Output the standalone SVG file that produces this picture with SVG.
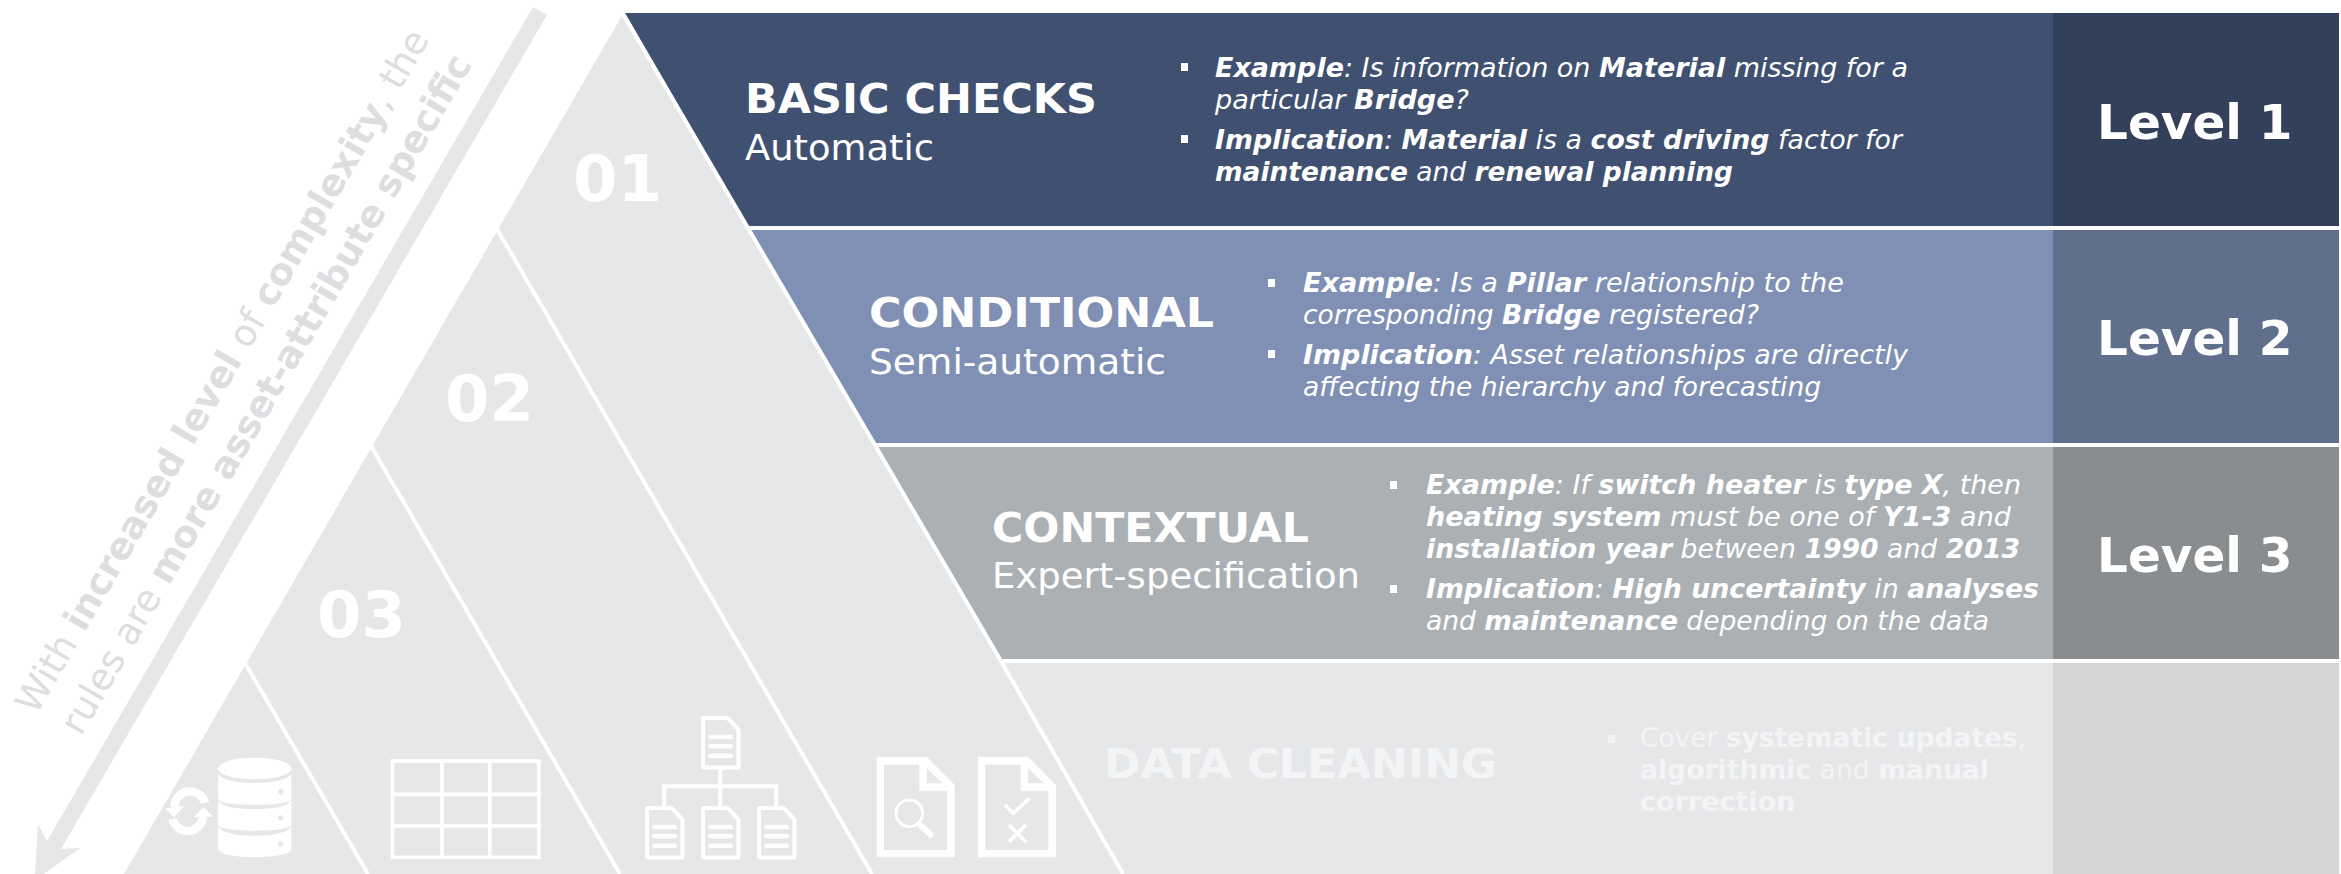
<svg xmlns="http://www.w3.org/2000/svg" width="2341" height="874" viewBox="0 0 2341 874">
<style>
text{font-family:"DejaVu Sans","Verdana",sans-serif;fill:#fff}
.t{font-size:41px;font-weight:700}
.s{font-size:36px}
.b{font-size:27px;font-style:italic}
.l{font-size:48.500px;font-weight:700}
.n{font-size:64px;font-weight:700}
.r{font-size:37px;fill:#DDDEE0}
.p{font-size:27px;fill:#F3F4F5}
.w{fill:#fff}
.ic{fill:none;stroke:#fff}
.div{stroke:#fff;stroke-width:4;fill:none}
</style>
<rect width="2341" height="874" fill="#fff"/>
<g id="triangle"><polygon points="623,14 1123,874 124,874" fill="#E6E7E9"/></g>
<g id="band1">
<polygon points="625,13 2053,13 2053,226 748,226" fill="#405070"/>
<rect x="2053" y="13" width="286" height="213" fill="#334059"/>
<text class="t" x="745" y="113" textLength="352" lengthAdjust="spacingAndGlyphs">BASIC CHECKS</text>
<text class="s" x="745" y="160" textLength="189" lengthAdjust="spacingAndGlyphs">Automatic</text>
<rect class="w" x="1181" y="63" width="7" height="8"/>
<text class="b" x="1215" y="77" textLength="693" lengthAdjust="spacingAndGlyphs"><tspan font-weight="700">Example</tspan>: Is information on <tspan font-weight="700">Material</tspan> missing for a</text>
<text class="b" x="1215" y="109" textLength="254" lengthAdjust="spacingAndGlyphs">particular <tspan font-weight="700">Bridge</tspan>?</text>
<rect class="w" x="1181" y="135" width="7" height="8"/>
<text class="b" x="1215" y="149" textLength="687" lengthAdjust="spacingAndGlyphs"><tspan font-weight="700">Implication</tspan>: <tspan font-weight="700">Material</tspan> is a <tspan font-weight="700">cost driving</tspan> factor for</text>
<text class="b" x="1215" y="181" textLength="518" lengthAdjust="spacingAndGlyphs"><tspan font-weight="700">maintenance</tspan> and <tspan font-weight="700">renewal planning</tspan></text>
<text class="l" x="2097" y="139">Level 1</text>
</g>
<g id="band2">
<polygon points="750,230 2053,230 2053,443 874,443" fill="#7F90B4"/>
<rect x="2053" y="230" width="286" height="213" fill="#5F6F8C"/>
<text class="t" x="869" y="327" textLength="345" lengthAdjust="spacingAndGlyphs">CONDITIONAL</text>
<text class="s" x="869" y="374" textLength="297" lengthAdjust="spacingAndGlyphs">Semi-automatic</text>
<rect class="w" x="1268" y="279" width="7" height="8"/>
<text class="b" x="1303" y="292" textLength="541" lengthAdjust="spacingAndGlyphs"><tspan font-weight="700">Example</tspan>: Is a <tspan font-weight="700">Pillar</tspan> relationship to the</text>
<text class="b" x="1303" y="324" textLength="456" lengthAdjust="spacingAndGlyphs">corresponding <tspan font-weight="700">Bridge</tspan> registered?</text>
<rect class="w" x="1268" y="350" width="7" height="8"/>
<text class="b" x="1303" y="364" textLength="605" lengthAdjust="spacingAndGlyphs"><tspan font-weight="700">Implication</tspan>: Asset relationships are directly</text>
<text class="b" x="1303" y="396" textLength="518" lengthAdjust="spacingAndGlyphs">affecting the hierarchy and forecasting</text>
<text class="l" x="2097" y="355">Level 2</text>
</g>
<g id="band3">
<polygon points="877,447 2053,447 2053,659 1000,659" fill="#ABB0B4"/>
<rect x="2053" y="447" width="286" height="212" fill="#8A8D90"/>
<text class="t" x="992" y="542" textLength="317" lengthAdjust="spacingAndGlyphs">CONTEXTUAL</text>
<text class="s" x="992" y="588" textLength="368" lengthAdjust="spacingAndGlyphs">Expert-specification</text>
<rect class="w" x="1390" y="481" width="7" height="8"/>
<text class="b" x="1426" y="494" textLength="595" lengthAdjust="spacingAndGlyphs"><tspan font-weight="700">Example</tspan>: If <tspan font-weight="700">switch heater</tspan> is <tspan font-weight="700">type X</tspan>, then</text>
<text class="b" x="1426" y="526" textLength="585" lengthAdjust="spacingAndGlyphs"><tspan font-weight="700">heating system</tspan> must be one of <tspan font-weight="700">Y1-3</tspan> and</text>
<text class="b" x="1426" y="558" textLength="594" lengthAdjust="spacingAndGlyphs"><tspan font-weight="700">installation year</tspan> between <tspan font-weight="700">1990</tspan> and <tspan font-weight="700">2013</tspan></text>
<rect class="w" x="1390" y="585" width="7" height="8"/>
<text class="b" x="1426" y="598" textLength="613" lengthAdjust="spacingAndGlyphs"><tspan font-weight="700">Implication</tspan>: <tspan font-weight="700">High uncertainty</tspan> in <tspan font-weight="700">analyses</tspan></text>
<text class="b" x="1426" y="630" textLength="563" lengthAdjust="spacingAndGlyphs">and <tspan font-weight="700">maintenance</tspan> depending on the data</text>
<text class="l" x="2097" y="572">Level 3</text>
</g>
<g id="band4">
<polygon points="1003,663 2053,663 2053,874 1123,874" fill="#E6E7E9"/>
<rect x="2053" y="663" width="286" height="211" fill="#D5D6D6"/>
<text class="t" x="1104" y="778" textLength="393" lengthAdjust="spacingAndGlyphs" style="fill:#F3F4F5">DATA CLEANING</text>
<rect x="1608" y="735" width="7" height="8" fill="#F3F4F5"/>
<text class="p" x="1640" y="747" textLength="386" lengthAdjust="spacingAndGlyphs">Cover <tspan font-weight="700">systematic updates</tspan>,</text>
<text class="p" x="1640" y="779" textLength="349" lengthAdjust="spacingAndGlyphs"><tspan font-weight="700">algorithmic</tspan> and <tspan font-weight="700">manual</tspan></text>
<text class="p" x="1640" y="811" font-weight="700">correction</text>
</g>
<g id="connectors">
<polyline class="div" points="623,14 748,228 875,445 1001,661 1123,874"/>
<line class="div" x1="497" y1="229" x2="872" y2="874"/>
<line class="div" x1="371" y1="446" x2="620" y2="874"/>
<line class="div" x1="245" y1="663" x2="368" y2="874"/>
<polygon points="533,7 547,15 61,849 80,848 44,874 35,874 38,824 47,841" fill="#E6E7E9"/>
</g>
<g id="numbers">
<text class="n" x="573" y="201">01</text>
<text class="n" x="445" y="421">02</text>
<text class="n" x="317" y="637">03</text>
</g>
<g id="axis-label">
<text class="r" transform="translate(36 716) rotate(-59.8)">With <tspan font-weight="700">increased level</tspan> of <tspan font-weight="700">complexity</tspan>, the</text>
<text class="r" transform="translate(81 737) rotate(-59.8)">rules are <tspan font-weight="700">more asset-attribute specific</tspan></text>
</g>
<g id="icon-database">
<ellipse cx="254.700" cy="768.500" rx="36.700" ry="10.800" fill="#fff"/>
<path class="w" d="M218,774c4,6 18,9 36.700,9s32,-3 36.700,-9v25c0,3 -14,6 -36.700,6s-36.700,-3 -36.700,-6z"/>
<path class="w" d="M218,800.700c4,6 18,8.300 36.700,8.300s32,-2.300 36.700,-8.300v24c0,3 -14,6 -36.700,6s-36.700,-3 -36.700,-6z"/>
<path class="w" d="M218,826.700c4,6 18,9 36.700,9s32,-3 36.700,-9v22c0,5 -14,8.300 -36.700,8.300s-36.700,-3.300 -36.700,-8.300z"/>
<circle cx="280.700" cy="791.700" r="2.700" fill="#E6E7E9"/><circle cx="280.700" cy="818" r="2.700" fill="#E6E7E9"/><circle cx="280.700" cy="844.300" r="2.700" fill="#E6E7E9"/>
<path class="ic" stroke-width="8.500" d="M174.500,807A15.500,15.500 0 0 1 205,803M172.500,819A15.500,15.500 0 0 0 203,817"/>
<polygon class="w" points="165,808.300 184.300,806 174,817.300"/>
<polygon class="w" points="213.300,816.700 194,817.300 203.300,806.700"/>
</g>
<g id="icon-table">
<rect class="ic" stroke-width="3.700" x="392.500" y="761" width="146.300" height="96.400"/>
<path class="ic" stroke-width="3.700" d="M442,761v96.400M489.700,761v96.400M392.500,794.300h146.300M392.500,826h146.300"/>
</g>
<g id="icon-hierarchy">
<defs><g id="doc">
<path class="ic" stroke-width="4" stroke-linejoin="round" d="M2,2h24.500l11,11.500v38h-35.500z"/>
<path class="ic" stroke-width="4.400" stroke-linecap="round" d="M9.500,21H30M9.500,30.300H30M9.500,39.700H30"/>
</g></defs>
<use href="#doc" x="701" y="716"/>
<use href="#doc" x="645" y="806"/><use href="#doc" x="701" y="806"/><use href="#doc" x="757" y="806"/>
<path class="ic" stroke-width="4" d="M720.300,769v37M664.300,806v-19.700h112v19.700"/>
</g>
<g id="icon-docs">
<path class="w" fill-rule="evenodd" d="M876.700,756.700H926.700L954.700,785V857.300H876.700ZM884,764.700V850H947V790.700H919.300V764.700ZM926.700,768.300V783.300H942.700Z"/>
<circle class="ic" stroke-width="3" cx="909.300" cy="813.300" r="13.300"/>
<path class="ic" stroke-width="6" stroke-linecap="round" d="M921,826l9.500,8.500"/>
<path class="w" fill-rule="evenodd" d="M978,756.700H1028L1056,785V857.300H978ZM985.300,764.700V850H1048.300V790.700H1020.600V764.700ZM1028,768.300V783.300H1044Z"/>
<path class="ic" stroke-width="3.700" d="M1005,805l8.300,8.300l16,-15M1009,825l16.700,16.700M1025.700,825l-16.700,16.700"/>
</g>
</svg>
